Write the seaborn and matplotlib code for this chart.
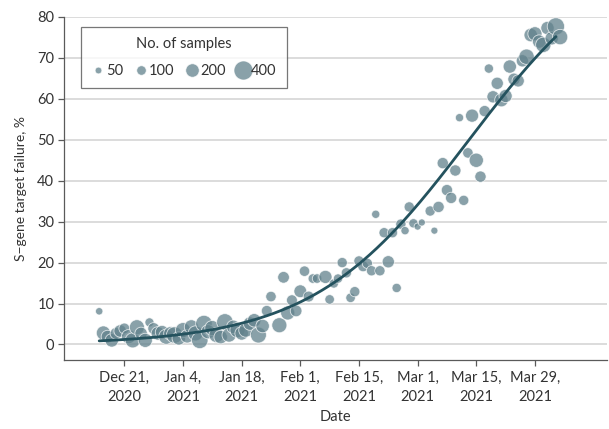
import numpy as np
import pandas as pd
import matplotlib
matplotlib.use("Agg")
import matplotlib.pyplot as plt
import seaborn as sns
from matplotlib.lines import Line2D

# ---------------- data ----------------
base_date = "2020-12-21"
day_offset = [-6, -5, -4, -3, -2, -1, 0, 1, 2, 3, 4, 5, 6, 7, 8, 9, 10, 11, 12, 13,
              14, 15, 16, 17, 18, 19, 20, 21, 22, 23, 24, 25, 26, 27, 28, 29, 30, 31, 32, 33,
              34, 35, 37, 38, 39, 40, 41, 42, 43, 44, 45, 46, 48, 49, 50, 51, 52, 53, 54, 55,
              56, 57, 58, 59, 60, 61, 62, 63, 64, 65, 66, 67, 68, 69, 70, 71, 73, 74, 75, 76,
              77, 78, 79, 80, 81, 82, 83, 84, 85, 86, 87, 88, 89, 90, 91, 92, 93, 94, 95, 96,
              97, 98, 99, 100, 101, 102, 103, 104]
sgtf_pct = [8.1, 2.8, 1.9, 1.0, 2.7, 3.3, 3.9, 1.9, 1.0, 4.2, 2.7, 1.0, 5.4, 3.9, 2.7, 3.0, 1.9, 2.7, 2.3, 1.5,
            3.5, 2.0, 4.3, 2.7, 1.0, 5.1, 3.1, 4.0, 2.3, 1.8, 5.5, 2.3, 4.3, 3.5, 2.7, 3.5, 5.1, 5.9, 2.3, 4.5,
            8.2, 11.7, 4.7, 16.4, 7.7, 10.8, 8.2, 13.0, 17.9, 11.7, 16.1, 16.1, 16.5, 11.0, 14.9, 16.1, 20.0, 17.5, 11.4, 12.9,
            20.4, 19.1, 19.8, 18.0, 31.8, 18.0, 27.3, 20.2, 27.3, 13.8, 29.4, 27.8, 33.6, 29.6, 28.8, 29.8, 32.6, 27.8, 33.6, 44.3,
            37.7, 35.8, 42.5, 55.4, 35.2, 46.8, 55.9, 45.0, 41.0, 57.0, 67.4, 60.5, 63.8, 59.7, 60.7, 67.9, 64.8, 64.4, 69.3, 70.3,
            75.6, 75.9, 74.0, 73.2, 77.3, 74.8, 77.7, 75.1]
n_samples = [60, 220, 180, 200, 150, 170, 130, 220, 250, 250, 170, 220, 90, 150, 200, 200, 250, 200, 300, 200,
             250, 200, 220, 250, 300, 300, 220, 250, 250, 200, 300, 220, 200, 250, 200, 220, 200, 200, 280, 200,
             130, 120, 250, 150, 220, 130, 150, 180, 120, 130, 100, 100, 190, 100, 95, 95, 115, 115, 100, 115,
             115, 130, 115, 115, 75, 115, 115, 165, 115, 95, 115, 75, 115, 95, 55, 55, 115, 55, 140, 140,
             140, 140, 140, 75, 115, 120, 190, 225, 140, 140, 95, 165, 165, 200, 190, 195, 165, 165, 165, 260,
             200, 220, 195, 260, 195, 195, 330, 260]

legend_sizes = [50, 100, 200, 400]
y_ticks = [0, 10, 20, 30, 40, 50, 60, 70, 80]
x_tick_dates = ["2020-12-21", "2021-01-04", "2021-01-18", "2021-02-01",
                "2021-02-15", "2021-03-01", "2021-03-15", "2021-03-29"]
x_tick_labels = ["Dec 21,\n2020", "Jan 4,\n2021", "Jan 18,\n2021", "Feb 1,\n2021",
                 "Feb 15,\n2021", "Mar 1,\n2021", "Mar 15,\n2021", "Mar 29,\n2021"]

# ---------------- frame ----------------
base = pd.Timestamp(base_date)
df = pd.DataFrame({"day": day_offset, "pct": sgtf_pct, "n": n_samples})
df["date"] = base + pd.to_timedelta(df["day"], unit="D")

# weighted logistic fit (binomial GLM via IRLS) for the trend curve
t = df["day"].to_numpy(float)
y = df["pct"].to_numpy(float) / 100.0
w = df["n"].to_numpy(float)
X = np.column_stack([np.ones_like(t), t])
beta = np.array([-4.0, 0.05])
for _ in range(50):
    eta = X @ beta
    mu = 1.0 / (1.0 + np.exp(-eta))
    W = w * mu * (1 - mu)
    z = eta + (y - mu) / (mu * (1 - mu))
    beta = np.linalg.solve(X.T @ (W[:, None] * X), X.T @ (W * z))
tt = np.linspace(t.min(), t.max() - 1, 200)
fit = pd.DataFrame({"date": base + pd.to_timedelta(tt, unit="D"),
                    "pct": 100.0 / (1.0 + np.exp(-(beta[0] + beta[1] * tt)))})

# ---------------- plot ----------------
sns.set_theme(style="white")
plt.rcParams["font.family"] = ["Lato", "DejaVu Sans"]
text_color = "#333333"
spine_color = "#5a5a5a"
dot_color = "#62828c"
line_color = "#24525e"
size_scale = 0.47

fig = plt.figure(figsize=(6.09, 4.29), dpi=100)
ax = fig.add_axes([64 / 609, 1 - 360 / 429, (607 - 64) / 609, (360 - 17) / 429])

for yv in y_ticks:
    ax.axhline(yv, color="#dcdcdc", lw=1.4, zorder=0)

sns.scatterplot(data=df, x="date", y="pct", size="n",
                sizes=(50 * size_scale, 400 * size_scale), size_norm=(50, 400),
                color=dot_color, alpha=0.75, edgecolor="white", linewidth=0.6,
                legend=False, ax=ax, zorder=2, clip_on=False)
sns.lineplot(data=fit, x="date", y="pct", color=line_color, lw=2, ax=ax, zorder=3)

ax.set_xlim(base - pd.Timedelta(days=14.4), base + pd.Timedelta(days=115.2))
ax.set_ylim(-3.8, 80)
ax.set_yticks(y_ticks)
ax.set_yticklabels([str(v) for v in y_ticks])
ax.set_xticks(pd.to_datetime(x_tick_dates))
ax.set_xticklabels(x_tick_labels, linespacing=1.4)

for s in ["top", "right"]:
    ax.spines[s].set_visible(False)
for s in ["left", "bottom"]:
    ax.spines[s].set_color(spine_color)
    ax.spines[s].set_linewidth(0.9)
ax.spines["left"].set_bounds(-3.8, 80)

ax.tick_params(axis="both", direction="out", length=4, width=0.9, color=spine_color,
               labelsize=10.5, labelcolor=text_color, pad=3, left=True, bottom=True)
ax.tick_params(axis="x", pad=4)
ax.set_xlabel("Date", fontsize=10.5, color=text_color, labelpad=5)
ax.set_ylabel("S\u2212gene target failure, %", fontsize=10, color=text_color, labelpad=7)

handles = [Line2D([], [], ls="", marker="o", markersize=np.sqrt(v * size_scale),
                  markerfacecolor=dot_color, markeredgecolor="white",
                  markeredgewidth=0.6, alpha=0.75) for v in legend_sizes]
leg = ax.legend(handles, [str(v) for v in legend_sizes], title="No. of samples",
                ncol=4, loc="upper left", bbox_to_anchor=(0.031, 0.971), borderaxespad=0,
                frameon=True, fancybox=False, handletextpad=0.05, columnspacing=0.7,
                handlelength=1.0, fontsize=10.5, title_fontsize=10.5,
                borderpad=0.7, labelspacing=0.5)
leg.get_frame().set_edgecolor("#555555")
leg.get_frame().set_linewidth(0.9)
for txt in leg.get_texts():
    txt.set_color(text_color)
leg.get_title().set_color(text_color)
leg._legend_box.sep = 9

fig.savefig("out.png", dpi=100)
